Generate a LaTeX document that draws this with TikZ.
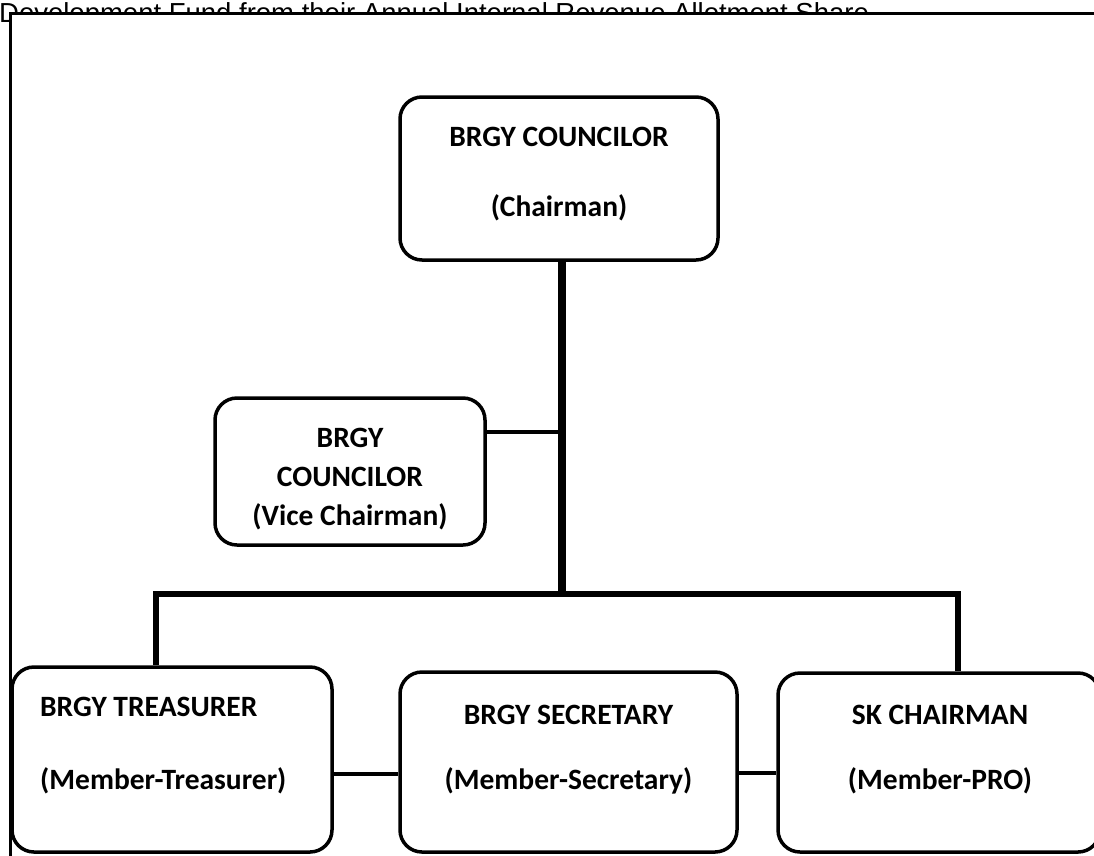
\documentclass[tikz,border=0pt]{standalone}
\usepackage{fontspec}
\setmainfont{Carlito}
\newfontfamily\headfont{Liberation Sans}
\usepackage{tikz}
\usetikzlibrary{calc}
\usetikzlibrary{shapes,positioning}
\tikzstyle{office} = [rectangle, rounded corners=22pt, draw=black, line width=3.5pt, inner sep=0pt]
\tikzstyle{title} = [anchor=base, inner sep=0pt, font=\fontsize{29.5}{35}\selectfont\bfseries]
\tikzstyle{trunk} = [line width=8pt]
\tikzstyle{branch} = [line width=5.5pt]
\tikzstyle{link} = [line width=3.5pt]

\begin{document}
\begin{tikzpicture}[x=1pt, y=-1pt]
\useasboundingbox (0,0) rectangle (1094,855);

% heading, partly hidden by the page frame
\node (head) [anchor=base west, inner sep=0pt, font=\headfont\fontsize{27.5}{33}\selectfont] at (-1,22) {Development Fund from their Annual Internal Revenue Allotment Share};
\draw[line width=3pt, fill=white] (10,900) |- (1120,13) -- (1120,900);

% offices
\node (chair) [office, minimum width=318pt, minimum height=163pt] at (559,178.5) {};
\node (vice) [office, minimum width=270pt, minimum height=147pt] at (350,471.5) {};
\node (tres) [office, minimum width=320pt, minimum height=185pt] at (172,759.5) {};
\node (sec) [office, minimum width=337pt, minimum height=180pt] at (568.5,762) {};
\node (sk) [office, minimum width=322pt, minimum height=179pt] at (939,762.5) {};

\node (chair-a) [title] at (559,146) {BRGY COUNCILOR};
\node (chair-b) [title] at (559,216) {(Chairman)};
\node (vice-a) [title] at (350,447) {BRGY};
\node (vice-b) [title] at (350,486) {COUNCILOR};
\node (vice-c) [title] at (350,525) {(Vice Chairman)};
\node (tres-a) [title, anchor=base west] at (40,716) {BRGY TREASURER};
\node (tres-b) [title, anchor=base west] at (40,789) {(Member-Treasurer)};
\node (sec-a) [title] at (568.5,724) {BRGY SECRETARY};
\node (sec-b) [title] at (568.5,789) {(Member-Secretary)};
\node (sk-a) [title] at (940,724) {SK CHAIRMAN};
\node (sk-b) [title] at (940,789) {(Member-PRO)};

% lines
\coordinate (bar-l) at (156,594);
\coordinate (bar-m) at (562,594);
\coordinate (bar-r) at (958,594);
\draw [trunk] (chair.south -| bar-m) -- (bar-m);
\draw [link] (vice.east |- 0,432) -- (bar-m |- 0,432);
\draw [branch] ([xshift=-2.75pt]bar-l) -- ([xshift=2.75pt]bar-r);
\draw [branch] (bar-l) -- (bar-l |- tres.north);
\draw [branch] (bar-r) -- (bar-r |- sk.north);
\draw [link] (tres.east |- 0,774) -- (sec.west |- 0,774);
\draw [link] (sec.east |- 0,773) -- (sk.west |- 0,773);
\end{tikzpicture}
\end{document}
